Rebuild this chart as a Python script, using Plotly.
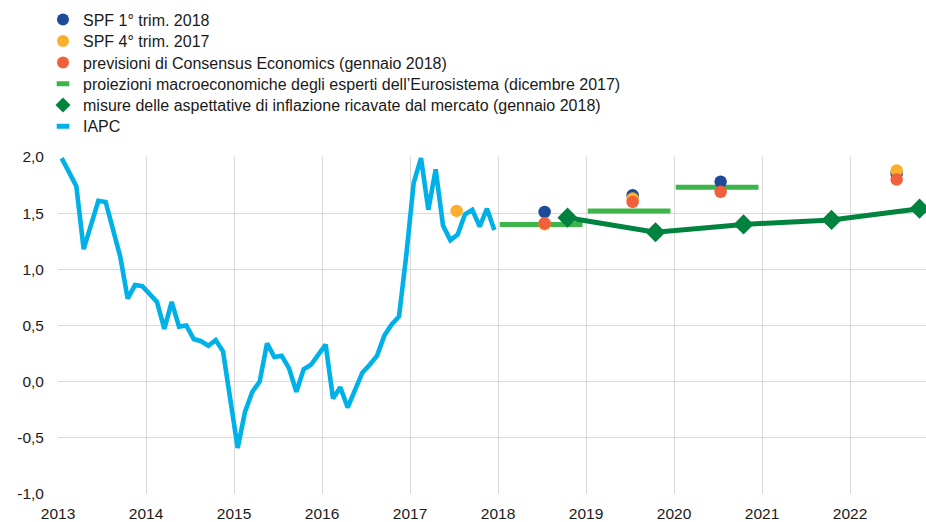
import plotly.graph_objects as go

# ---------------- data ----------------
# IAPC (HICP), monthly, Jan 2013 - Dec 2017, % yoy
iapc_start_year = 2013
iapc_values = [
    1.99, 1.86, 1.74, 1.18, 1.38, 1.61, 1.60, 1.36, 1.11, 0.74, 0.86, 0.85,   # 2013
    0.78, 0.71, 0.47, 0.71, 0.49, 0.50, 0.38, 0.36, 0.32, 0.37, 0.27, -0.18,  # 2014
    -0.59, -0.27, -0.09, 0.00, 0.34, 0.22, 0.23, 0.12, -0.09, 0.11, 0.15, 0.24,  # 2015
    0.33, -0.15, -0.05, -0.23, -0.08, 0.08, 0.15, 0.23, 0.41, 0.51, 0.58, 1.13,  # 2016
    1.77, 1.99, 1.53, 1.89, 1.39, 1.26, 1.31, 1.49, 1.53, 1.38, 1.54, 1.35,     # 2017
]

# SPF 1° trim. 2018
spf_q1_2018_years = [2018, 2019, 2020, 2022]
spf_q1_2018_values = [1.51, 1.66, 1.78, 1.85]

# SPF 4° trim. 2017
spf_q4_2017_years = [2017, 2018, 2019, 2022]
spf_q4_2017_values = [1.52, 1.40, 1.63, 1.88]

# Consensus Economics (gennaio 2018)
consensus_years = [2018, 2019, 2020, 2022]
consensus_values = [1.41, 1.60, 1.69, 1.80]

# Eurosystem staff projections (dicembre 2017)
eurosystem_years = [2018, 2019, 2020]
eurosystem_values = [1.40, 1.52, 1.73]

# Market-based inflation expectations (gennaio 2018)
market_years = [2018, 2019, 2020, 2021, 2022]
market_values = [1.46, 1.33, 1.40, 1.44, 1.54]

x_tick_years = [2013, 2014, 2015, 2016, 2017, 2018, 2019, 2020, 2021, 2022]
y_tick_values = [-1.0, -0.5, 0.0, 0.5, 1.0, 1.5, 2.0]
y_tick_labels = ["-1,0", "-0,5", "0,0", "0,5", "1,0", "1,5", "2,0"]

legend_labels = [
    "SPF 1° trim. 2018",
    "SPF 4° trim. 2017",
    "previsioni di Consensus Economics (gennaio 2018)",
    "proiezioni macroeconomiche degli esperti dell\u2019Eurosistema (dicembre 2017)",
    "misure delle aspettative di inflazione ricavate dal mercato (gennaio 2018)",
    "IAPC",
]

# ---------------- style ----------------
C_BLUE = "#1D4B98"
C_YELLOW = "#FBB02D"
C_ORANGE = "#F1603D"
C_LGREEN = "#3DB54A"
C_DGREEN = "#00833E"
C_IAPC = "#00B1E8"
GRID = "#D9D9D9"
TXT = "#1A1A1A"
FONT = "Liberation Sans, Arial, sans-serif"

W, H = 926, 522
ML, MT, MB, MR = 58, 157, 28, 0
PX_PER_YEAR = 88.0
x_end = 2013 + (W - ML - MR) / PX_PER_YEAR

POINT_OFFSET = 0.53   # survey points placed around mid-year
MARKET_OFFSET = 0.79

fig = go.Figure()

# IAPC line (mid-month positions)
iapc_x = [iapc_start_year + (i + 0.5) / 12 for i in range(len(iapc_values))]
fig.add_trace(go.Scatter(
    x=iapc_x, y=iapc_values, mode="lines",
    line=dict(color=C_IAPC, width=4.6), showlegend=False, hoverinfo="skip"))

# Eurosystem projections: one horizontal bar per year
ex, ey = [], []
for yr, v in zip(eurosystem_years, eurosystem_values):
    ex += [yr + 0.02, yr + 0.96, None]
    ey += [v, v, None]
fig.add_trace(go.Scatter(
    x=ex, y=ey, mode="lines", line=dict(color=C_LGREEN, width=5),
    showlegend=False, hoverinfo="skip"))

# Market-based measures
fig.add_trace(go.Scatter(
    x=[y + MARKET_OFFSET for y in market_years], y=market_values,
    mode="lines+markers", line=dict(color=C_DGREEN, width=5),
    marker=dict(symbol="diamond", size=15.5, color=C_DGREEN),
    showlegend=False, hoverinfo="skip", cliponaxis=False))

# Survey points (order: blue, yellow, orange on top)
for yrs, vals, col in [
    (spf_q1_2018_years, spf_q1_2018_values, C_BLUE),
    (spf_q4_2017_years, spf_q4_2017_values, C_YELLOW),
    (consensus_years, consensus_values, C_ORANGE),
]:
    fig.add_trace(go.Scatter(
        x=[y + POINT_OFFSET for y in yrs], y=vals, mode="markers",
        marker=dict(symbol="circle", size=12.5, color=col),
        showlegend=False, hoverinfo="skip"))

# ---------------- legend (one legend per row, placed at reference rows) ----------------
legend_rows_px = [19.5, 41, 62.5, 83.8, 105, 126.3]
legend_markers = [
    dict(symbol="circle", size=12, color=C_BLUE),
    dict(symbol="circle", size=12, color=C_YELLOW),
    dict(symbol="circle", size=12, color=C_ORANGE),
    dict(symbol="line-ew", size=9, color=C_LGREEN, line=dict(width=5, color=C_LGREEN)),
    dict(symbol="diamond", size=11.5, color=C_DGREEN),
    dict(symbol="line-ew", size=9, color=C_IAPC, line=dict(width=5, color=C_IAPC)),
]
plot_h = H - MT - MB
plot_w = W - ML - MR
legend_left_px = 43
layout_legends = {}
for i, (lab, mk, ry) in enumerate(zip(legend_labels, legend_markers, legend_rows_px)):
    key = "legend" if i == 0 else f"legend{i + 1}"
    fig.add_trace(go.Scatter(
        x=[None], y=[None], mode="markers", marker=mk, name=lab,
        showlegend=True, legend=key, hoverinfo="skip"))
    layout_legends[key] = dict(
        x=(legend_left_px - ML) / plot_w, xanchor="left",
        y=(H - MB - ry) / plot_h, yanchor="middle",
        bgcolor="rgba(0,0,0,0)", borderwidth=0,
        font=dict(family=FONT, size=16, color=TXT),
        itemclick=False, itemdoubleclick=False,
    )

fig.update_layout(
    width=W, height=H,
    margin=dict(l=ML, r=MR, t=MT, b=MB, pad=0, autoexpand=False),
    paper_bgcolor="white", plot_bgcolor="white",
    font=dict(family=FONT, size=15.5, color=TXT),
    showlegend=True,
    **layout_legends,
)
fig.update_xaxes(
    range=[2013, x_end], tickmode="array", tickvals=x_tick_years,
    ticktext=[str(y) for y in x_tick_years],
    showgrid=True, gridcolor=GRID, gridwidth=1, zeroline=False,
    showline=False, ticks="", ticklabelstandoff=8,
    tickfont=dict(family=FONT, size=15.5, color=TXT),
    fixedrange=True, automargin=False,
)
fig.update_yaxes(
    range=[-1, 2], tickmode="array", tickvals=y_tick_values, ticktext=y_tick_labels,
    showgrid=True, gridcolor=GRID, gridwidth=1, zeroline=False,
    showline=False, ticks="", ticklabelstandoff=13,
    tickfont=dict(family=FONT, size=15.5, color=TXT),
    fixedrange=True, automargin=False,
)

fig.write_html(
    "out.html", include_plotlyjs=True, config={"displayModeBar": False},
    post_script="document.body.style.margin='0px';",
)
